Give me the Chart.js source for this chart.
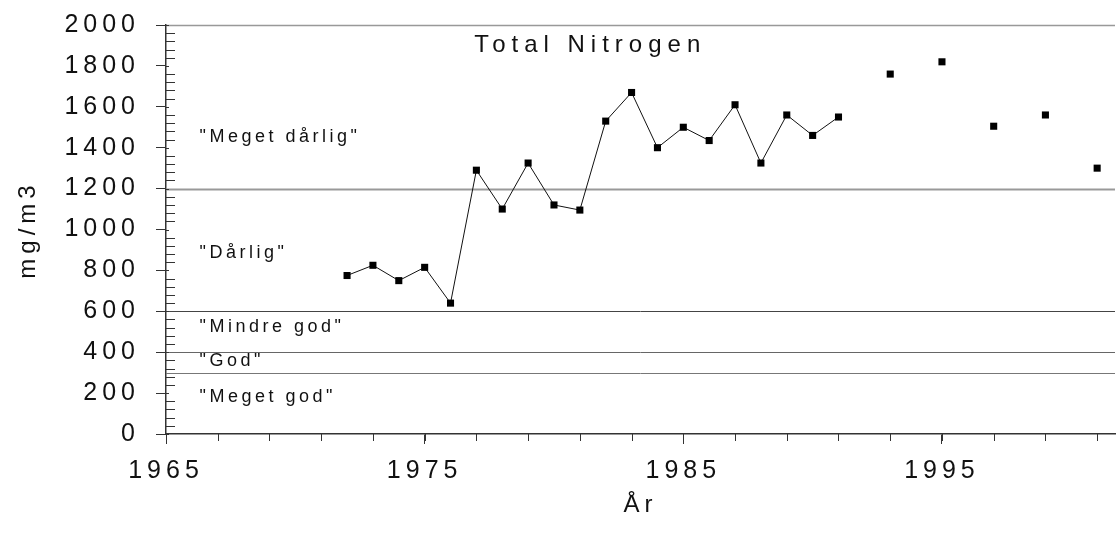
<!DOCTYPE html>
<html>
<head>
<meta charset="utf-8">
<script src="https://cdn.jsdelivr.net/npm/chart.js@4.4.1/dist/chart.umd.min.js"></script>
<style>
  html, body { margin: 0; padding: 0; background: #fff; }
  #wrap { width: 1120px; height: 534px; }
</style>
</head>
<body>
<div id="wrap"><canvas id="chart"></canvas></div>
<script>
// yearly means, joined by a line up to 1991
const YEARS_LINKED = [1972, 1973, 1974, 1975, 1976, 1977, 1978, 1979, 1980, 1981,
                      1982, 1983, 1984, 1985, 1986, 1987, 1988, 1989, 1990, 1991];
const N_LINKED     = [775, 825, 750, 815, 640, 1290, 1100, 1325, 1120, 1095,
                      1530, 1670, 1400, 1500, 1435, 1610, 1325, 1560, 1460, 1550];

// later samples, every second year, no line
const YEARS_LATER = [1993, 1995, 1997, 1999, 2001];
const N_LATER     = [1760, 1820, 1505, 1560, 1300];

const X_TICKS = [1965, 1975, 1985, 1995];

// class limits (mg/m3) and names of the classes between them
const CLASS_LIMITS  = [300, 400, 600, 1200, 2000];
const CLASS_NAMES   = ['"Meget god"', '"God"', '"Mindre god"', '"Dårlig"', '"Meget dårlig"'];
const CLASS_LABEL_Y = [180, 355, 525, 885, 1450];

const TITLE = 'Total Nitrogen';

const FONT = '"Liberation Sans", Arial, sans-serif';
const INK  = '#111';
const LIMIT_COLORS = ['#777', '#666', '#444', '#999', '#999'];
const LIMIT_WIDTHS = [1, 1, 1, 2, 1.5];

const toPoints = (xs, ys) => xs.map((x, i) => ({ x, y: ys[i] }));

const decor = {
  id: 'decor',
  beforeUpdate(chart) { chart.ctx.letterSpacing = '5px'; },
  beforeDraw(chart)   { chart.ctx.letterSpacing = '5px'; },
  beforeDatasetsDraw(chart) {
    const { ctx, chartArea: area } = chart;
    const xs = chart.scales.x, ys = chart.scales.y;
    ctx.save();

    // class limit lines
    CLASS_LIMITS.forEach((v, i) => {
      const py = Math.round(ys.getPixelForValue(v)) + 0.5;
      ctx.strokeStyle = LIMIT_COLORS[i];
      ctx.lineWidth = LIMIT_WIDTHS[i];
      ctx.beginPath();
      ctx.moveTo(area.left, py);
      ctx.lineTo(area.right, py);
      ctx.stroke();
    });

    // minor ticks
    ctx.strokeStyle = '#333';
    ctx.lineWidth = 1;
    ctx.beginPath();
    for (let v = xs.min; v <= xs.max; v += 2) {
      const px = Math.round(xs.getPixelForValue(v)) + 0.5;
      ctx.moveTo(px, area.bottom);
      ctx.lineTo(px, area.bottom + 7);
    }
    for (let v = ys.min; v <= ys.max; v += 40) {
      const py = Math.round(ys.getPixelForValue(v)) + 0.5;
      const len = v % 200 === 0 ? 3 : 9;
      ctx.moveTo(area.left, py);
      ctx.lineTo(area.left + len, py);
    }
    ctx.stroke();

    // class names
    ctx.fillStyle = INK;
    ctx.textBaseline = 'middle';
    ctx.textAlign = 'left';
    ctx.font = '18px ' + FONT;
    ctx.letterSpacing = '3.5px';
    CLASS_NAMES.forEach((name, i) => {
      ctx.fillText(name, xs.getPixelForValue(1966.3), ys.getPixelForValue(CLASS_LABEL_Y[i]));
    });

    // title inside the plot
    ctx.font = '24px ' + FONT;
    ctx.letterSpacing = '6px';
    ctx.textAlign = 'center';
    ctx.fillText(TITLE, xs.getPixelForValue(1981.4), ys.getPixelForValue(1900));

    ctx.restore();
  }
};

const pointStyle = {
  pointStyle: 'rect',
  pointRadius: 5,
  pointHoverRadius: 5,
  pointBackgroundColor: '#000',
  pointBorderWidth: 0,
};

new Chart(document.getElementById('chart'), {
  type: 'scatter',
  data: {
    datasets: [
      { data: toPoints(YEARS_LINKED, N_LINKED), showLine: true, borderColor: INK, borderWidth: 1, ...pointStyle },
      { data: toPoints(YEARS_LATER, N_LATER), showLine: false, ...pointStyle },
    ]
  },
  options: {
    responsive: true,
    maintainAspectRatio: false,
    animation: false,
    devicePixelRatio: 1,
    layout: { padding: { top: 25, left: 0, right: 0, bottom: 0 } },
    plugins: { legend: { display: false }, tooltip: { enabled: false } },
    scales: {
      x: {
        type: 'linear',
        min: 1965,
        max: 2001.69,
        afterBuildTicks: s => { s.ticks = X_TICKS.map(v => ({ value: v })); },
        afterFit: s => { s.height = 100; s.paddingLeft = 0; s.paddingRight = 0; },
        ticks: { color: INK, font: { family: FONT, size: 25 }, padding: 12, maxRotation: 0, autoSkip: false,
                 callback: v => String(v) },
        grid: { drawOnChartArea: false, drawTicks: true, tickLength: 10, color: '#333' },
        border: { color: '#333', width: 1.5 },
        title: { display: true, text: 'År', color: INK, font: { family: FONT, size: 24 }, padding: { top: 14, bottom: 14 } },
      },
      y: {
        min: 0,
        max: 2000,
        afterFit: s => { s.width = 166; s.paddingTop = 0; s.paddingBottom = 0; },
        ticks: { stepSize: 200, color: INK, font: { family: FONT, size: 25 }, padding: 16,
                 callback: v => String(v) },
        grid: { drawOnChartArea: false, drawTicks: true, tickLength: 10, color: '#333' },
        border: { color: '#333', width: 1.5 },
        title: { display: true, text: 'mg/m3', color: INK, font: { family: FONT, size: 24 }, padding: { top: 14, bottom: 4 } },
      }
    }
  },
  plugins: [decor]
});
</script>
</body>
</html>
